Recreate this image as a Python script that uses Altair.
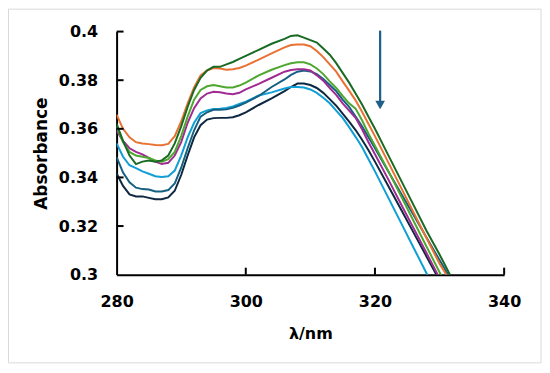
import altair as alt
import pandas as pd

wavelength = [280, 281, 282, 283, 284, 285, 286, 287, 288, 289, 290, 291, 292, 293, 294, 295,
              296, 297, 298, 299, 300, 302, 304, 306, 307, 308, 309, 310, 311, 312, 313, 314,
              315, 316, 317, 318, 319, 320, 322, 324, 326, 328, 330, 332]

dark_green = [0.362, 0.355, 0.349, 0.3455, 0.3465, 0.347, 0.3465, 0.347, 0.349, 0.354, 0.361, 0.369,
              0.376, 0.381, 0.384, 0.3855, 0.3855, 0.3865, 0.3875, 0.3888, 0.390, 0.3925, 0.395, 0.397,
              0.3982, 0.3985, 0.3975, 0.3965, 0.3955, 0.393, 0.3905, 0.387, 0.383, 0.379, 0.3745, 0.370,
              0.365, 0.360, 0.3495, 0.339, 0.3285, 0.318, 0.3083, 0.298]
orange = [0.3658, 0.360, 0.3565, 0.3545, 0.354, 0.3537, 0.3533, 0.3532, 0.3538, 0.357, 0.363, 0.3705,
          0.377, 0.382, 0.384, 0.385, 0.3848, 0.3843, 0.3845, 0.385, 0.386, 0.3885, 0.391, 0.3935,
          0.3945, 0.3947, 0.3947, 0.394, 0.392, 0.3895, 0.3865, 0.3835, 0.3795, 0.3757, 0.3717, 0.367,
          0.362, 0.357, 0.3465, 0.336, 0.3255, 0.315, 0.3045, 0.296]
green = [0.361, 0.3545, 0.3505, 0.349, 0.3485, 0.348, 0.347, 0.3465, 0.3475, 0.3505, 0.357, 0.365,
         0.372, 0.376, 0.3775, 0.378, 0.3775, 0.377, 0.377, 0.3778, 0.379, 0.382, 0.3843, 0.3862,
         0.387, 0.3874, 0.3874, 0.3865, 0.3848, 0.3825, 0.3795, 0.3768, 0.3735, 0.3705, 0.3683, 0.3635,
         0.358, 0.353, 0.343, 0.3325, 0.322, 0.3115, 0.301, 0.292]
purple = [0.3593, 0.355, 0.352, 0.3505, 0.3495, 0.348, 0.3465, 0.3455, 0.346, 0.349, 0.3545, 0.3625,
          0.3685, 0.3725, 0.3745, 0.3752, 0.375, 0.3745, 0.3742, 0.3748, 0.3762, 0.3785, 0.381, 0.3835,
          0.3842, 0.3845, 0.3845, 0.384, 0.382, 0.3798, 0.3768, 0.374, 0.3705, 0.3675, 0.3645, 0.3598,
          0.3545, 0.3495, 0.3395, 0.3292, 0.319, 0.3088, 0.2985, 0.289]
steel_blue = [0.3484, 0.342, 0.338, 0.3358, 0.3352, 0.335, 0.3342, 0.3342, 0.3348, 0.3375, 0.344, 0.352,
              0.3594, 0.365, 0.3668, 0.3678, 0.3678, 0.368, 0.3686, 0.3696, 0.3708, 0.3735, 0.3772, 0.3803,
              0.3822, 0.3835, 0.384, 0.3836, 0.3825, 0.3805, 0.378, 0.3755, 0.372, 0.369, 0.365, 0.361,
              0.3565, 0.352, 0.3428, 0.3336, 0.3244, 0.3152, 0.306, 0.297]
light_blue = [0.354, 0.3485, 0.345, 0.3438, 0.3425, 0.3415, 0.3405, 0.3402, 0.3405, 0.3428, 0.349, 0.3565,
              0.3625, 0.3665, 0.3676, 0.3682, 0.3683, 0.3686, 0.3692, 0.3702, 0.3712, 0.3737, 0.375, 0.3766,
              0.3772, 0.3772, 0.377, 0.3762, 0.3748, 0.3728, 0.3705, 0.3675, 0.3645, 0.3607, 0.3567, 0.3525,
              0.3475, 0.3425, 0.332, 0.3215, 0.311, 0.3005, 0.290, 0.280]
navy = [0.3416, 0.3365, 0.333, 0.3322, 0.3322, 0.3316, 0.331, 0.331, 0.3318, 0.3345, 0.341, 0.349,
        0.3565, 0.3615, 0.3638, 0.3644, 0.3645, 0.3645, 0.3648, 0.3656, 0.3668, 0.3698, 0.3725, 0.3755,
        0.3772, 0.3786, 0.3786, 0.378, 0.3768, 0.3748, 0.3722, 0.3695, 0.3662, 0.363, 0.3595, 0.3555,
        0.3512, 0.3465, 0.3368, 0.327, 0.3172, 0.3074, 0.2976, 0.287]

series_names = ["s1", "s2", "s3", "s4", "s5", "s6", "s7"]
series_values = [navy, light_blue, steel_blue, purple, green, orange, dark_green]
series_colors = ["#0E2841", "#0F9ED5", "#156082", "#A02B93", "#4EA72E", "#E97132", "#196B24"]

x_ticks = [280, 300, 320, 340]
y_ticks = [0.3, 0.32, 0.34, 0.36, 0.38, 0.4]

arrow_wl = [320.8]
arrow_top = [0.4004]
arrow_shaft_end = [0.371]
arrow_head = [0.3698]

rows = []
for name, vals in zip(series_names, series_values):
    for w, a in zip(wavelength, vals):
        rows.append({"wl": w, "A": a, "series": name})
df = pd.DataFrame(rows)

FONT = "DejaVu Sans"
x_scale = alt.Scale(domain=[280, 340], nice=False, zero=False)
y_scale = alt.Scale(domain=[0.3, 0.4], nice=False, zero=False)

x_axis = alt.Axis(
    values=x_ticks, title="λ/nm", ticks=False, tickSize=0, grid=False,
    domainColor="black", domainWidth=2, labelFlush=False, labelOverlap=False,
    labelFont=FONT, labelFontWeight="bold", labelFontSize=16, labelColor="black",
    labelPadding=19, titleFont=FONT, titleFontWeight="bold", titleFontSize=16,
    titleColor="black", titlePadding=16)
y_axis = alt.Axis(
    values=y_ticks, format=".2~f", title="Absorbance", ticks=False, tickSize=0, grid=False,
    domainColor="black", domainWidth=2, labelFlush=False, labelOverlap=False,
    labelFont=FONT, labelFontWeight="bold", labelFontSize=16, labelColor="black",
    labelPadding=19, titleFont=FONT, titleFontWeight="bold", titleFontSize=17,
    titleColor="black", titlePadding=8)

lines = alt.Chart(df).mark_line(strokeWidth=2, clip=True).encode(
    x=alt.X("wl:Q", scale=x_scale, axis=x_axis),
    y=alt.Y("A:Q", scale=y_scale, axis=y_axis),
    color=alt.Color("series:N", scale=alt.Scale(domain=series_names, range=series_colors), legend=None),
)

ytick_df = pd.DataFrame({"A": y_ticks[1:]})
ytick_layer = alt.Chart(ytick_df).mark_rule(color="black", strokeWidth=2).encode(
    y=alt.Y("A:Q", scale=y_scale, axis=y_axis),
    x=alt.value(0), x2=alt.value(7),
)

xtick_df = pd.DataFrame({"wl": x_ticks[1:]})
xtick_layer = alt.Chart(xtick_df).mark_rule(color="black", strokeWidth=2).encode(
    x=alt.X("wl:Q", scale=x_scale, axis=x_axis),
    y=alt.value(244), y2=alt.value(237),
)

arrow_df = pd.DataFrame({"wl": arrow_wl, "A": arrow_top, "A2": arrow_shaft_end})
arrow_shaft = alt.Chart(arrow_df).mark_rule(color="#1d5f86", strokeWidth=2.2).encode(
    x=alt.X("wl:Q", scale=x_scale, axis=x_axis),
    y=alt.Y("A:Q", scale=y_scale, axis=y_axis),
    y2="A2:Q",
)
head_df = pd.DataFrame({"wl": arrow_wl, "A": arrow_head})
arrow_tip = alt.Chart(head_df).mark_point(shape="triangle-down", filled=True, size=95,
                                          color="#1d5f86", opacity=1).encode(
    x=alt.X("wl:Q", scale=x_scale, axis=x_axis),
    y=alt.Y("A:Q", scale=y_scale, axis=y_axis),
)

frame = alt.Chart(pd.DataFrame({"f": [0]})).mark_rect(
    filled=False, stroke="#d9d9d9", strokeWidth=1).encode(
    x=alt.value(-108.5), x2=alt.value(426), y=alt.value(-22.5), y2=alt.value(332.5),
)

chart = alt.layer(lines, ytick_layer, xtick_layer, arrow_shaft, arrow_tip, frame).properties(
    width=389, height=244,
    background="white",
    autosize=alt.AutoSizeParams(type="none"),
    padding={"left": 109, "top": 23, "right": 38, "bottom": 90},
).configure_view(stroke=None)

chart.save("out.html", embed_options={"renderer": "svg", "actions": False})
